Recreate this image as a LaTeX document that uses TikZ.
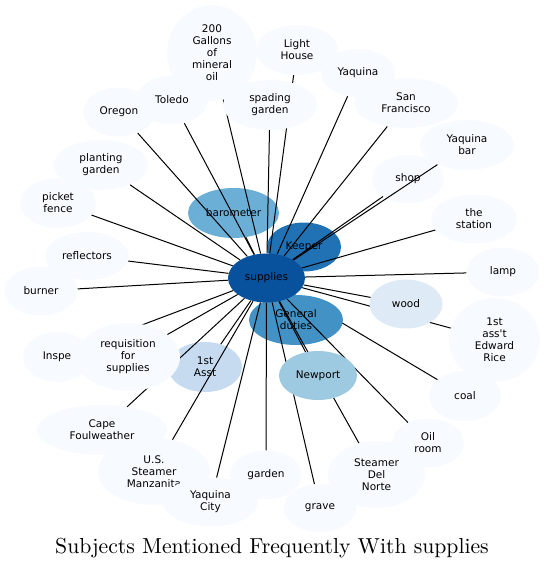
\documentclass[tikz,border=0pt]{standalone}
\usepackage{fontspec}
\usepackage{tikz}
\usetikzlibrary{shapes.geometric}
\newfontfamily\nodefont{DejaVu Sans}
\definecolor{blu1}{HTML}{F7FBFF}
\definecolor{blu2}{HTML}{DEEBF7}
\definecolor{blu3}{HTML}{C6DBEF}
\definecolor{blu4}{HTML}{9ECAE1}
\definecolor{blu5}{HTML}{6BAED6}
\definecolor{blu6}{HTML}{4292C6}
\definecolor{blu7}{HTML}{2171B5}
\definecolor{blu8}{HTML}{08519C}
\pgfdeclarelayer{upper}
\pgfdeclarelayer{top}
\pgfsetlayers{main,upper,top}

\begin{document}
\begin{tikzpicture}[x=1pt,y=-1pt,
  soggetto/.style={ellipse,inner sep=0pt,align=center,
    font=\nodefont\fontsize{10.5}{12}\selectfont},
  arco/.style={line width=1pt}]
  \useasboundingbox (0,0) rectangle (544,568);
  % Soggetti
  \foreach \n/\x/\y/\w/\h/\t in {
    gallons/212/53/90/96/{200\\Gallons\\of\\mineral\\oil},
    lighthouse/297/50/82/50/{Light\\House},
    yaquina/358/73/74/48/{Yaquina},
    sanfrancisco/406/103/104/50/{San\\Francisco},
    yaquinabar/467/145/94/50/{Yaquina\\bar},
    shop/408/179/72/48/{shop},
    station/474/219/86/49/{the\\station},
    lamp/503/272/73/49/{lamp},
    rice/494.5/340/91/84/{1st\\ass't\\Edward\\Rice},
    coal/465/396/72/50/{coal},
    oilroom/428/443/72/49/{Oil\\room},
    delnorte/376.5/474.5/97/67/{Steamer\\Del\\Norte},
    grave/320/508/73/48/{grave},
    cape/102/430/130/50/{Cape\\Foulweather},
    manzanita/154/471.5/112/67/{U.S.\\Steamer\\Manzanita},
    yaquinacity/210.5/502/95/49/{Yaquina\\City},
    garden/266/475/72/49/{garden},
    inspe/57/357/68/50/{Inspe},
    burner/41/291/73/49/{burner},
    reflectors/87/256/84/48/{reflectors},
    picket/58/203/76/50/{picket\\fence},
    planting/101/165/94/50/{planting\\garden},
    oregon/119/112/72/49/{Oregon},
    toledo/172/100/72/49/{Toledo}}{
    \node[soggetto,fill=blu1,minimum width=\w,minimum height=\h] (\n) at (\x,\y) {\t};
  }
  \node[soggetto,fill=blu5,minimum width=91,minimum height=50] (barometer) at (233.5,213) {barometer};
  \node[soggetto,fill=blu7,minimum width=74,minimum height=49] (keeper) at (304,247) {Keeper};
  \node[soggetto,fill=blu3,minimum width=74,minimum height=50] (asst) at (205,367) {1st\\Asst};
  % Sopra gli archi
  \begin{pgfonlayer}{top}
    \node[soggetto,fill=blu8,minimum width=77,minimum height=49] (supplies) at (266.5,278) {supplies};
  \end{pgfonlayer}
  \begin{pgfonlayer}{upper}
    \node[soggetto,fill=blu4,minimum width=78,minimum height=49] (newport) at (318,375.5) {Newport};
    \node[soggetto,fill=blu2,minimum width=73,minimum height=49] (wood) at (406,304) {wood};
    \node[soggetto,fill=blu1,minimum width=104,minimum height=68] (requisition) at (128,357) {requisition\\for\\supplies};
    \node[soggetto,fill=blu1,minimum width=94,minimum height=50] (spading) at (270,105) {spading\\garden};
  \end{pgfonlayer}
  % Archi
  \draw[arco] (supplies) -- (coal);
  \node[soggetto,fill=blu6,minimum width=94,minimum height=50] (duties) at (296,320) {General\\duties};
  \foreach \t in {gallons,lighthouse,yaquina,sanfrancisco,yaquinabar,shop,station,lamp,
    rice,wood,oilroom,delnorte,grave,garden,yaquinacity,manzanita,cape,requisition,
    asst,newport,inspe,burner,reflectors,picket,planting,oregon,toledo,spading,barometer}
    \draw[arco] (supplies) -- (\t);
  % Titolo
  \node[font=\fontsize{10}{12}\selectfont,scale=2.17,anchor=base] (titolo) at (272,553)
    {Subjects Mentioned Frequently With supplies};
\end{tikzpicture}
\end{document}
